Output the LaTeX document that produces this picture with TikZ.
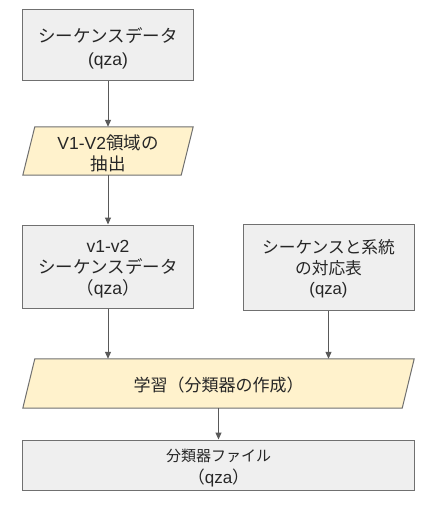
\documentclass[tikz,border=0pt]{standalone}
\usepackage{fontspec}
\setmainfont{Liberation Sans}
\newfontfamily\jp{Noto Sans CJK JP}
\usetikzlibrary{arrows.meta}
\definecolor{boxgray}{HTML}{EFEFEF}
\definecolor{boxline}{HTML}{707070}
\definecolor{parafill}{HTML}{FFF2CC}
\definecolor{arrowgray}{HTML}{595959}
\newcommand\fsz[2]{\fontsize{#1bp}{#2bp}\selectfont}
\tikzset{
  gbox/.style={draw=boxline, fill=boxgray, line width=1bp, rectangle, inner sep=0pt},
  pframe/.style={rectangle, inner sep=0pt},
  pshape/.style={draw=boxline, fill=parafill, line width=1bp, line join=miter},
  txt/.style={align=center, inner sep=0pt, text=black!85},
  flow/.style={draw=arrowgray, line width=1bp, -{Triangle[length=7bp,width=6bp]}}
}
\begin{document}
\begin{tikzpicture}[x=1bp,y=-1bp]
\useasboundingbox[fill=white] (0,0) rectangle (438,505);
% shapes
\node[gbox, minimum width=170bp, minimum height=71bp] (b1) at (108,45.5) {};
\node[pframe, minimum width=170bp, minimum height=48bp] (p1) at (108,151) {};
\node[gbox, minimum width=170bp, minimum height=83bp] (b2) at (108,266.5) {};
\node[gbox, minimum width=171bp, minimum height=86bp] (b3) at (328.5,267) {};
\node[pframe, minimum width=391bp, minimum height=49bp] (p2) at (218.5,383.5) {};
\node[gbox, minimum width=391bp, minimum height=50bp] (b4) at (218.5,465) {};
\draw[pshape] ([xshift=12bp]p1.north west) -- (p1.north east) -- ([xshift=-12bp]p1.south east) -- (p1.south west) -- cycle;
\draw[pshape] ([xshift=12bp]p2.north west) -- (p2.north east) -- ([xshift=-12bp]p2.south east) -- (p2.south west) -- cycle;
% texts
\node[txt, font=\fsz{17.5}{23}] (b1t) at ([yshift=-3bp]b1.center) {{\jp シーケンスデータ}\\(qza)};
\node[txt, font=\fsz{17.5}{21}] (p1t) at ([yshift=-2bp]p1.center) {V1-V2{\jp 領域の}\\{\jp 抽出}};
\node[txt, font=\fsz{17.5}{21}] (b2t) at ([yshift=-3bp]b2.center) {v1-v2\\{\jp シーケンスデータ}\\{\jp （}qza{\jp ）}};
\node[txt, font=\fsz{16.7}{20.5}] (b3t) at ([yshift=-2bp]b3.center) {{\jp シーケンスと系統}\\{\jp の対応表}\\(qza)};
\node[txt, font=\fsz{17}{21}] (p2t) at ([yshift=-2bp]p2.center) {{\jp 学習（分類器の作成）}};
\node[txt, font=\fsz{15}{22}] (b4t) at ([yshift=-3bp]b4.center) {{\jp 分類器ファイル}\\{\fsz{17}{22}\jp （}{\fsz{17}{22}qza}{\fsz{17}{22}\jp ）}};
% connectors
\draw[flow] (b1.south) -- (p1.north);
\draw[flow] (p1.south) -- (b2.north);
\draw[flow] (b2.south) -- (b2.south |- p2.north);
\draw[flow] (b3.south) -- (b3.south |- p2.north);
\draw[flow] (p2.south) -- (b4.north);
\end{tikzpicture}
\end{document}
